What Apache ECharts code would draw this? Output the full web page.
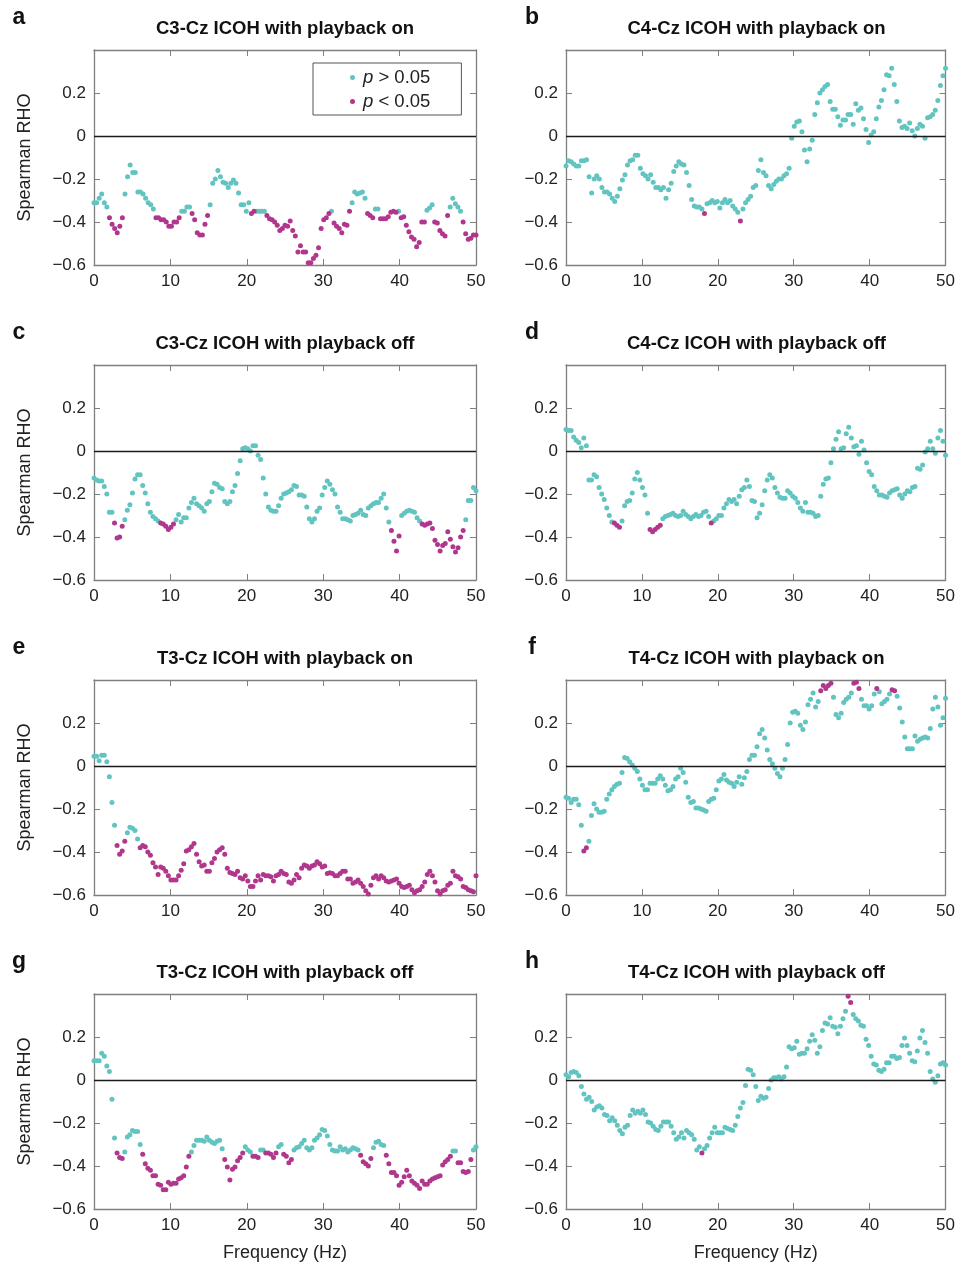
<!DOCTYPE html>
<html><head><meta charset="utf-8">
<script src="https://cdn.jsdelivr.net/npm/echarts@6/dist/echarts.min.js"></script>
<style>html,body{margin:0;padding:0;background:#fff}#c{width:958px;height:1265px}</style>
</head><body><div id="c"></div>
<script>
const xTicks = [0, 10, 20, 30, 40, 50];
const yTicks = [-0.6, -0.4, -0.2, 0, 0.2];
const panelLetters = ['a','b','c','d','e','f','g','h'];
const panelTitles = [
  'C3-Cz ICOH with playback on', 'C4-Cz ICOH with playback on',
  'C3-Cz ICOH with playback off', 'C4-Cz ICOH with playback off',
  'T3-Cz ICOH with playback on', 'T4-Cz ICOH with playback on',
  'T3-Cz ICOH with playback off', 'T4-Cz ICOH with playback off'
];
const legendNames = ['p > 0.05', 'p < 0.05'];

// Spearman RHO per frequency bin (0..50 Hz), and run lengths alternating p>0.05 / p<0.05
const rhoA = [-0.31,-0.31,-0.29,-0.27,-0.31,-0.33,
 -0.38,-0.41,-0.43,-0.45,-0.42,-0.38,
 -0.27,-0.19,-0.135,-0.17,-0.17,-0.26,-0.26,-0.27,-0.29,-0.31,-0.32,-0.34,
 -0.38,-0.38,-0.39,-0.39,-0.40,-0.42,-0.42,-0.40,-0.40,-0.38,
 -0.35,-0.35,-0.33,-0.33,
 -0.36,-0.39,-0.45,-0.46,-0.46,-0.41,-0.37,
 -0.32,-0.22,-0.20,-0.16,-0.19,-0.215,-0.22,-0.24,-0.22,-0.205,-0.22,-0.265,-0.32,-0.32,-0.35,-0.31,
 -0.36,-0.35,
 -0.35,-0.35,-0.35,-0.35,
 -0.37,-0.385,-0.39,-0.40,-0.415,-0.44,-0.43,-0.415,-0.42,-0.395,-0.44,-0.465,-0.54,-0.51,-0.54,-0.54,-0.59,-0.59,-0.57,-0.555,-0.52,-0.43,-0.39,-0.38,-0.36,
 -0.35,
 -0.405,-0.42,-0.43,-0.45,-0.41,-0.415,-0.35,
 -0.31,-0.26,-0.27,-0.265,-0.26,-0.29,
 -0.36,-0.37,-0.38,
 -0.34,-0.34,
 -0.385,-0.385,-0.385,-0.375,-0.355,-0.35,-0.355,
 -0.35,
 -0.38,-0.375,-0.415,-0.445,-0.47,-0.48,-0.515,-0.495,-0.40,-0.40,
 -0.345,-0.335,-0.32,
 -0.40,-0.405,-0.44,-0.455,-0.465,-0.37,
 -0.33,-0.29,-0.315,-0.33,-0.35,
 -0.40,-0.455,-0.48,-0.475,-0.46,-0.46];
const sigRunsA = [6,6,12,10,4,7,16,2,4,25,1,7,6,3,2,7,1,10,3,6,5,6];

const rhoB = [-0.14,-0.115,-0.12,-0.13,-0.14,-0.14,-0.115,-0.115,-0.11,-0.19,-0.265,-0.20,-0.185,-0.20,-0.24,-0.26,-0.26,-0.27,-0.29,-0.305,
 -0.28,-0.245,-0.205,-0.18,-0.135,-0.115,-0.11,-0.09,-0.09,-0.15,-0.175,-0.185,-0.20,-0.18,-0.215,-0.24,-0.24,-0.25,-0.24,-0.29,
 -0.25,-0.22,-0.165,-0.14,-0.12,-0.13,-0.135,-0.17,-0.23,-0.295,-0.325,-0.33,-0.33,-0.34,
 -0.36,
 -0.315,-0.31,-0.30,-0.31,-0.305,-0.335,-0.31,-0.295,-0.31,-0.30,-0.325,-0.34,-0.355,
 -0.395,
 -0.34,-0.31,-0.295,-0.28,-0.24,-0.23,-0.16,-0.11,-0.17,-0.185,-0.23,-0.245,-0.225,-0.21,-0.2,-0.2,-0.185,-0.175,-0.15,-0.01,
 0.045,0.065,0.07,0.02,-0.065,-0.12,-0.06,-0.02,0.10,0.155,0.20,0.215,0.23,0.24,0.16,0.125,0.125,0.09,0.05,0.075,
 0.075,0.10,0.10,0.055,0.15,0.12,0.13,0.08,0.03,-0.03,0.005,0.02,0.08,0.135,0.165,0.215,0.285,0.28,0.315,0.24,
 0.16,0.07,0.04,0.045,0.035,0.06,0.025,0,0.035,0.055,0.045,-0.01,0.085,0.09,0.10,0.12,0.165,0.235,0.28,0.315];
const sigRunsB = [54,1,13,1,80];

const rhoC = [-0.125,-0.135,-0.14,-0.14,-0.165,-0.20,-0.285,-0.285,
 -0.335,-0.405,-0.40,-0.35,
 -0.32,-0.275,-0.25,-0.195,-0.13,-0.11,-0.11,-0.16,-0.195,-0.245,-0.285,-0.305,-0.315,-0.325,
 -0.335,-0.34,-0.35,-0.365,-0.355,-0.34,
 -0.32,-0.295,-0.33,-0.31,-0.31,-0.265,-0.24,-0.22,-0.245,-0.255,-0.265,-0.28,-0.245,-0.235,-0.19,-0.15,-0.155,-0.17,-0.175,-0.235,-0.245,
 -0.235,-0.19,-0.16,-0.105,-0.045,0.01,0.015,0.01,0,0.025,0.025,-0.02,-0.04,-0.125,-0.20,-0.26,-0.275,-0.28,-0.28,-0.255,
 -0.22,-0.2,-0.195,-0.19,-0.18,-0.16,-0.165,-0.205,-0.205,-0.21,-0.26,-0.315,-0.33,-0.315,-0.28,-0.265,-0.205,-0.17,-0.14,-0.155,
 -0.18,-0.20,-0.26,-0.285,-0.315,-0.315,-0.32,-0.325,-0.3,-0.295,-0.29,-0.275,-0.295,-0.3,-0.265,-0.255,-0.245,-0.24,-0.24,-0.22,
 -0.2,-0.265,-0.33,
 -0.37,-0.42,-0.465,-0.395,
 -0.3,-0.29,-0.28,-0.275,-0.28,-0.285,-0.31,-0.325,
 -0.34,-0.345,-0.34,-0.335,-0.36,-0.415,-0.435,-0.465,-0.44,-0.43,-0.375,-0.41,-0.445,-0.47,-0.45,-0.40,-0.37,
 -0.32,-0.23,-0.23,-0.17,-0.185];
const sigRunsC = [8,4,14,6,84,4,8,17,5];

const rhoD = [0.10,0.095,0.095,0.065,0.05,0.04,0.015,0.06,0.025,-0.135,-0.135,-0.11,-0.12,-0.17,-0.20,-0.225,-0.265,-0.30,-0.33,
 -0.335,-0.345,-0.355,
 -0.325,-0.255,-0.235,-0.23,-0.195,-0.13,-0.10,-0.135,-0.17,-0.205,-0.29,
 -0.365,-0.375,-0.365,-0.355,-0.345,
 -0.315,-0.305,-0.30,-0.295,-0.29,-0.30,-0.305,-0.30,-0.28,-0.295,-0.305,-0.315,-0.305,-0.295,-0.305,-0.30,-0.285,-0.28,-0.305,
 -0.335,
 -0.325,-0.315,-0.30,-0.30,-0.265,-0.245,-0.225,-0.235,-0.225,-0.245,-0.21,
 -0.18,-0.17,-0.135,-0.165,-0.23,-0.235,-0.31,-0.29,-0.25,-0.185,
 -0.135,-0.11,-0.125,-0.17,-0.195,-0.215,-0.22,-0.22,-0.185,-0.195,
 -0.21,-0.22,-0.24,-0.265,-0.28,-0.24,-0.285,-0.285,-0.29,-0.305,
 -0.30,-0.21,-0.155,-0.13,-0.125,-0.055,0.01,0.055,0.09,0.01,
 0.015,0.08,0.11,0.06,0.02,0.025,-0.015,0.045,0.005,-0.055,
 -0.095,-0.11,-0.165,-0.185,-0.205,-0.205,-0.21,-0.215,-0.195,-0.185,
 -0.18,-0.175,-0.205,-0.22,-0.2,-0.185,-0.19,-0.17,-0.165,-0.08,
 -0.085,-0.065,-0.005,0.01,0.045,0.01,-0.01,0.06,0.095,0.045,
 -0.02];
const sigRunsD = [19,3,11,5,19,1,92];

const rhoE = [0.045,0.045,0.025,0.05,0.05,0.02,-0.05,-0.17,-0.275,
 -0.37,-0.41,-0.395,-0.35,
 -0.31,-0.285,-0.29,-0.30,-0.34,
 -0.38,-0.37,-0.375,-0.40,-0.415,-0.45,-0.47,-0.505,-0.47,-0.475,
 -0.49,-0.51,-0.53,-0.53,-0.53,-0.51,-0.485,-0.455,-0.395,-0.39,
 -0.375,-0.36,-0.41,-0.445,-0.465,-0.46,-0.49,-0.49,-0.45,-0.43,
 -0.40,-0.39,-0.38,-0.41,-0.475,-0.495,-0.50,-0.505,-0.49,-0.52,
 -0.525,-0.51,-0.535,-0.56,-0.56,-0.535,-0.51,-0.53,-0.505,-0.51,
 -0.51,-0.515,-0.535,-0.51,-0.505,-0.49,-0.50,-0.505,-0.54,-0.545,
 -0.53,-0.505,-0.52,-0.475,-0.46,-0.465,-0.475,-0.465,-0.46,-0.445,
 -0.455,-0.47,-0.465,-0.50,-0.497,-0.50,-0.51,-0.51,-0.50,-0.49,
 -0.49,-0.525,-0.525,-0.545,-0.54,-0.53,-0.545,-0.56,-0.58,-0.595,
 -0.555,-0.52,-0.51,-0.525,-0.51,-0.52,-0.535,-0.54,-0.535,-0.53,
 -0.525,-0.545,-0.56,-0.565,-0.56,-0.555,-0.575,-0.59,-0.58,-0.575,
 -0.56,-0.54,-0.505,-0.49,-0.51,-0.54,-0.58,-0.595,-0.58,-0.575,
 -0.555,-0.545,-0.49,-0.51,-0.515,-0.525,-0.56,-0.565,-0.575,-0.58,
 -0.585,-0.51];
const sigRunsE = [9,4,5,132];

const rhoF = [-0.145,-0.15,-0.17,-0.155,-0.155,-0.18,-0.275,
 -0.395,-0.38,
 -0.35,
 -0.23,-0.175,-0.20,-0.215,-0.215,-0.21,-0.155,-0.13,-0.11,-0.095,
 -0.085,-0.08,-0.03,0.04,0.035,0.02,0.005,-0.01,-0.025,-0.06,
 -0.09,-0.11,-0.11,-0.08,-0.08,-0.08,-0.06,-0.045,-0.06,-0.09,
 -0.115,-0.11,-0.095,-0.06,-0.05,-0.01,-0.03,-0.075,-0.145,-0.17,
 -0.165,-0.195,-0.195,-0.20,-0.205,-0.21,-0.165,-0.155,-0.15,-0.11,
 -0.07,-0.06,-0.04,-0.065,-0.075,-0.08,-0.095,-0.075,-0.05,-0.085,
 -0.055,-0.025,0.03,0.05,0.05,0.09,0.15,0.17,0.13,0.075,
 0.03,0.01,-0.01,-0.035,-0.05,-0.01,0.03,0.1,0.20,0.25,
 0.255,0.245,0.19,0.17,0.205,0.285,0.31,0.34,0.275,0.30,
 0.35,0.375,0.36,0.375,0.385,
 0.32,0.24,0.225,0.245,0.295,0.31,0.32,0.34,
 0.385,0.39,0.36,
 0.31,0.28,0.28,0.265,0.28,0.335,
 0.36,
 0.345,0.29,0.30,0.31,0.335,
 0.355,0.35,
 0.325,0.27,0.205,0.135,0.08,0.08,0.08,0.14,0.115,0.125,0.13,0.135,0.13,0.175,0.265,0.32,0.275,0.19,0.225,0.315];
const sigRunsF = [7,2,91,5,8,3,6,1,5,2,20];

const rhoG = [0.09,0.09,0.09,0.125,0.11,0.065,0.04,-0.09,-0.27,
 -0.34,-0.36,-0.365,
 -0.335,-0.265,-0.255,-0.235,-0.24,-0.24,-0.30,
 -0.345,-0.39,-0.41,-0.42,-0.445,-0.445,-0.485,-0.49,-0.51,-0.51,-0.475,-0.485,-0.48,-0.48,-0.46,-0.455,-0.445,-0.405,-0.355,
 -0.335,-0.305,-0.28,-0.28,-0.28,-0.285,-0.265,-0.28,-0.29,-0.295,-0.285,-0.28,-0.32,
 -0.37,-0.405,-0.465,-0.415,-0.405,-0.375,-0.36,-0.34,
 -0.31,-0.325,-0.335,
 -0.355,-0.355,-0.36,
 -0.325,-0.325,
 -0.34,-0.34,-0.345,-0.36,-0.34,
 -0.31,-0.30,
 -0.345,-0.355,-0.385,-0.37,
 -0.325,-0.315,-0.31,-0.295,-0.28,-0.315,-0.325,-0.315,-0.28,-0.27,-0.255,-0.23,-0.235,-0.26,-0.30,-0.325,-0.33,-0.33,-0.31,-0.325,-0.32,-0.335,-0.325,-0.315,-0.32,-0.325,
 -0.35,-0.38,-0.39,-0.40,-0.365,
 -0.315,-0.29,-0.285,-0.30,-0.305,
 -0.35,-0.39,-0.43,-0.43,-0.445,-0.49,-0.475,-0.45,-0.42,-0.445,-0.47,-0.48,-0.49,-0.505,-0.47,-0.485,-0.485,-0.47,-0.46,-0.455,-0.45,-0.445,-0.395,-0.38,-0.37,-0.355,
 -0.33,-0.33,
 -0.385,-0.385,-0.425,-0.43,-0.425,-0.37,
 -0.325,-0.31];
const sigRunsG = [9,3,7,19,13,8,3,3,2,5,2,4,26,5,5,26,2,6,2];

const rhoH = [0.025,0.015,0.035,0.04,0.035,0.02,-0.03,-0.065,-0.09,-0.08,
 -0.10,-0.14,-0.125,-0.12,-0.13,-0.16,-0.165,-0.19,-0.175,-0.19,
 -0.21,-0.235,-0.25,-0.22,-0.21,-0.165,-0.14,-0.155,-0.145,-0.155,
 -0.14,-0.16,-0.195,-0.20,-0.215,-0.23,-0.235,-0.215,-0.195,-0.195,
 -0.195,-0.215,-0.245,-0.275,-0.265,-0.245,-0.27,-0.235,-0.245,-0.255,
 -0.275,-0.325,-0.31,
 -0.34,
 -0.32,-0.305,-0.27,-0.245,-0.22,-0.245,-0.245,-0.245,-0.22,-0.225,
 -0.23,-0.235,-0.21,-0.17,-0.13,-0.105,-0.025,0.05,0.045,0.025,
 -0.03,-0.095,-0.075,-0.085,-0.08,-0.04,0,0.01,0.01,0.015,
 0.005,0.015,0.06,0.155,0.145,0.15,0.18,0.12,0.125,0.125,
 0.145,0.18,0.21,0.185,0.125,0.155,0.23,0.265,0.26,0.29,
 0.25,0.245,0.215,0.25,0.285,0.32,
 0.39,0.36,
 0.305,0.285,0.275,0.255,0.25,0.19,0.16,0.11,0.075,0.07,
 0.045,0.04,0.05,0.08,0.08,0.11,0.11,0.10,0.105,0.16,
 0.195,0.16,0.125,0.09,0.085,0.135,0.195,0.23,0.175,0.125,
 0.04,0.005,-0.01,0.02,0.075,0.08,0.07];
const sigRunsH = [53,1,56,2,37];

const panels = [[rhoA,sigRunsA],[rhoB,sigRunsB],[rhoC,sigRunsC],[rhoD,sigRunsD],
                [rhoE,sigRunsE],[rhoF,sigRunsF],[rhoG,sigRunsG],[rhoH,sigRunsH]];

const COL_NS = '#62c4c0', COL_SIG = '#b0378d', FRAME = '#7f7f7f';
const FONT = '"Liberation Sans", Arial, Helvetica, sans-serif';
const gridLeft = [94, 566], gridWidth = [382, 381];
const gridTop = [50, 365, 680, 994], gridH = 215;

function split(rho, runs) {
  const mask = [];
  runs.forEach((r, k) => { for (let i = 0; i < r; i++) mask.push(k % 2); });
  const n = rho.length, ns = [], sg = [];
  rho.forEach((v, i) => { const f = i * 50 / (n - 1); (mask[i] ? sg : ns).push([f, v]); });
  return [ns, sg];
}
function yFmt(v) {
  const r = Math.round(v * 10) / 10;
  if (r >= 0.35) return '';
  if (r === 0) return '0';
  return (r < 0 ? '\u2212' : '') + Math.abs(r).toFixed(1);
}

const grid = [], xAxis = [], yAxis = [], series = [], graphic = [];
for (let p = 0; p < 8; p++) {
  const col = p % 2, row = Math.floor(p / 2);
  grid.push({left: gridLeft[col], width: gridWidth[col], top: gridTop[row], height: gridH});
  const line = {show: true, onZero: false, lineStyle: {color: FRAME, width: 1.3}};
  const tick = {show: true, inside: true, length: 6, lineStyle: {color: FRAME, width: 1}};
  xAxis.push({type: 'value', gridIndex: p, min: xTicks[0], max: xTicks[xTicks.length-1], interval: 10,
    position: 'bottom', axisLine: line, axisTick: tick, splitLine: {show: false},
    axisLabel: {fontSize: 17, color: '#222', margin: 8, fontFamily: FONT},
    name: row === 3 ? 'Frequency (Hz)' : '', nameLocation: 'middle', nameGap: 35,
    nameTextStyle: {fontSize: 18, color: '#222', fontFamily: FONT}});
  xAxis.push({type: 'value', gridIndex: p, min: 0, max: 50, interval: 10, position: 'top',
    axisLine: line, axisTick: tick, axisLabel: {show: false}, splitLine: {show: false}});
  yAxis.push({type: 'value', gridIndex: p, min: -0.6, max: 0.4, interval: 0.2, position: 'left',
    axisLine: line, axisTick: tick, splitLine: {show: false},
    axisLabel: {fontSize: 17, color: '#222', margin: 8, fontFamily: FONT, formatter: yFmt},
    name: col === 0 ? 'Spearman RHO' : '', nameLocation: 'middle', nameGap: 60, nameRotate: 90,
    nameTextStyle: {fontSize: 18, color: '#222', fontFamily: FONT}});
  yAxis.push({type: 'value', gridIndex: p, min: -0.6, max: 0.4, interval: 0.2, position: 'right',
    axisLine: line, axisTick: tick, axisLabel: {show: false}, splitLine: {show: false}});
  const [ns, sg] = split(panels[p][0], panels[p][1]);
  series.push({type: 'scatter', name: legendNames[0], xAxisIndex: 2*p, yAxisIndex: 2*p, data: ns,
    symbolSize: 5, itemStyle: {color: COL_NS, opacity: 1}, clip: true, z: 3,
    markLine: {silent: true, symbol: 'none', label: {show: false}, animation: false,
      lineStyle: {color: '#1a1a1a', width: 1.4, type: 'solid'}, data: [{yAxis: 0}]}});
  series.push({type: 'scatter', name: legendNames[1], xAxisIndex: 2*p, yAxisIndex: 2*p, data: sg,
    symbolSize: 5, itemStyle: {color: COL_SIG, opacity: 1}, clip: true, z: 4});
  const cx = gridLeft[col] + gridWidth[col] / 2;
  graphic.push({type: 'text', x: cx, y: gridTop[row] - 21, style: {text: panelTitles[p],
    textAlign: 'center', textVerticalAlign: 'middle', fontSize: 18.5, fontWeight: 'bold', fontFamily: FONT, fill: '#111'}});
  graphic.push({type: 'text', x: col ? 532 : 19, y: gridTop[row] - 32, style: {text: panelLetters[p],
    textAlign: 'center', textVerticalAlign: 'middle', fontSize: 23, fontWeight: 'bold', fontFamily: FONT, fill: '#111'}});
}

const chart = echarts.init(document.getElementById('c'), null, {renderer: 'canvas'});
chart.setOption({
  animation: false,
  backgroundColor: '#fff',
  textStyle: {fontFamily: FONT},
  grid, xAxis, yAxis, series, graphic,
  legend: {left: 313, top: 63, orient: 'vertical', data: legendNames, selectedMode: false,
    icon: 'circle', itemWidth: 5, itemHeight: 5, itemGap: 5,
    padding: [5, 31, 4, 37], borderColor: '#555', borderWidth: 1, backgroundColor: '#fff',
    formatter: n => n === legendNames[0] ? '{i|p} > 0.05' : '{i|p} < 0.05',
    textStyle: {fontSize: 18.5, color: '#222', fontFamily: FONT, lineHeight: 19, padding: [0, 0, 0, 3],
      rich: {i: {fontStyle: 'italic', fontSize: 18.5, fontFamily: FONT, lineHeight: 19}}}}
});
</script></body></html>
